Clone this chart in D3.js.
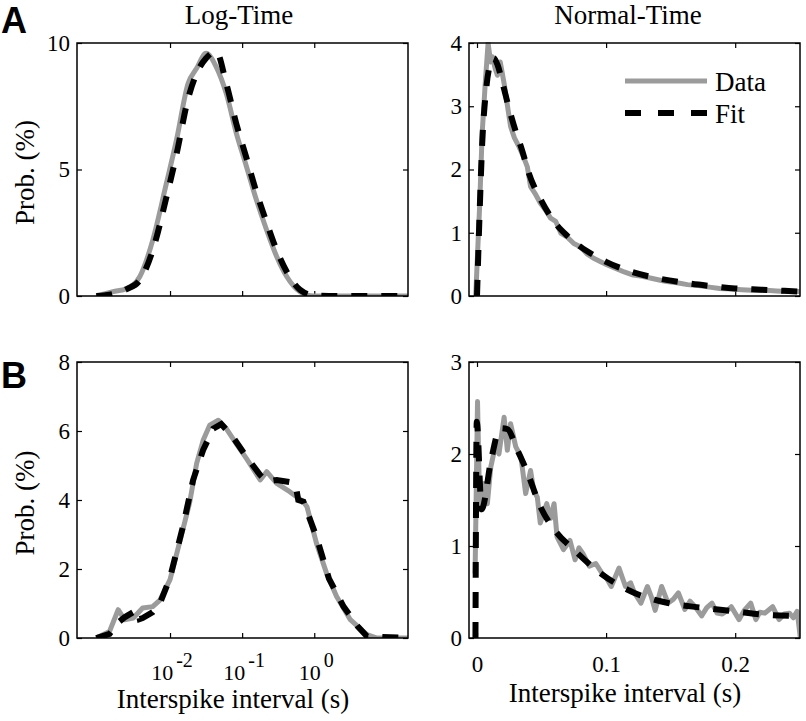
<!DOCTYPE html>
<html>
<head>
<meta charset="utf-8">
<script src="https://cdn.jsdelivr.net/npm/d3@7"></script>
<style>
  html, body { margin: 0; padding: 0; background: #fff; }
  svg { display: block; }
  text.serif, .serif text { font-family: "Liberation Serif", "Times New Roman", serif; fill: #000; }
  text.letter { font-family: "Liberation Sans", Arial, sans-serif; font-weight: bold; fill: #000; }
</style>
</head>
<body>
<svg id="chart" width="806" height="721"></svg>
<script>
// ---------------- DATA ----------------
// Panel A, log-time: interspike interval (s) and probability (%)
const isiLogA = [0.00095, 0.00162, 0.00251, 0.0038, 0.00575, 0.0089, 0.0123, 0.0178, 0.0234, 0.0316, 0.0437, 0.0603, 0.0832, 0.115, 0.158, 0.219, 0.302, 0.417, 0.631, 0.977, 2.0, 5.0, 19.95];
const dataLogA = [0, 0.17, 0.3, 0.76, 2.2, 4.45, 6.17, 8.4, 9.0, 9.59, 9.06, 8.0, 6.43, 5.11, 3.79, 2.6, 1.55, 0.76, 0.17, 0, 0, 0, 0];
const fitLogA  = [0, 0.08, 0.27, 0.62, 1.8, 3.9, 5.6, 7.8, 8.8, 9.4, 9.66, 8.4, 6.8, 5.45, 4.1, 2.9, 1.8, 0.95, 0.25, 0.03, 0, 0, 0];

// Panel A, normal-time
const isiNormA_data = [-0.001, 0.002, 0.004, 0.0065, 0.0086, 0.0105, 0.012, 0.014, 0.0158, 0.018, 0.021, 0.024, 0.026, 0.029, 0.0325, 0.036, 0.039, 0.0415, 0.045, 0.049, 0.053, 0.057, 0.061, 0.065, 0.07, 0.075, 0.08, 0.085, 0.09, 0.095, 0.101, 0.107, 0.114, 0.121, 0.128, 0.135, 0.142, 0.147, 0.155, 0.163, 0.173, 0.18, 0.188, 0.198, 0.205, 0.213, 0.224, 0.232, 0.24, 0.25];
const dataNormA = [0, 1.4, 2.57, 3.4, 4.0, 3.7, 3.78, 3.6, 3.49, 3.7, 3.36, 2.95, 2.68, 2.5, 2.36, 2.2, 2.04, 1.73, 1.62, 1.47, 1.36, 1.23, 1.18, 0.99, 0.93, 0.83, 0.78, 0.67, 0.6, 0.55, 0.49, 0.44, 0.38, 0.33, 0.31, 0.28, 0.25, 0.23, 0.21, 0.18, 0.16, 0.14, 0.12, 0.11, 0.1, 0.09, 0.09, 0.08, 0.07, 0.07];
const isiNormA_fit = [0.0, 0.002, 0.004, 0.007, 0.01, 0.013, 0.016, 0.02, 0.025, 0.03, 0.035, 0.04, 0.05, 0.06, 0.07, 0.08, 0.09, 0.1, 0.12, 0.14, 0.16, 0.18, 0.2, 0.22, 0.25];
const fitNormA  = [0, 1.3, 2.4, 3.25, 3.65, 3.76, 3.65, 3.35, 2.95, 2.6, 2.3, 1.95, 1.5, 1.17, 0.95, 0.78, 0.65, 0.54, 0.38, 0.28, 0.21, 0.16, 0.12, 0.1, 0.07];

// Panel B, log-time
const isiLogB_data = [0.00095, 0.00145, 0.00191, 0.00234, 0.00309, 0.00417, 0.00575, 0.00724, 0.01, 0.0135, 0.0186, 0.0234, 0.0288, 0.0355, 0.0468, 0.0603, 0.0832, 0.115, 0.178, 0.219, 0.302, 0.457, 0.708, 0.794, 1.072, 1.479, 2.042, 3.162, 5.37, 7.41, 19.95];
const dataLogB = [0, 0.19, 0.82, 0.53, 0.58, 0.87, 0.91, 1.1, 1.69, 2.75, 3.9, 5.06, 5.73, 6.17, 6.31, 6.07, 5.63, 5.2, 4.58, 4.82, 4.48, 4.24, 3.95, 3.8, 2.75, 1.88, 1.2, 0.53, 0.1, 0, 0];
const isiLogB_fit = [0.00095, 0.00145, 0.00191, 0.00234, 0.00309, 0.00355, 0.0038, 0.00417, 0.00575, 0.00724, 0.01, 0.0151, 0.0209, 0.0288, 0.0398, 0.0513, 0.0741, 0.115, 0.178, 0.219, 0.302, 0.513, 0.55, 0.6, 0.708, 1.07, 1.6, 2.55, 4.0, 5.37, 19.95];
const fitLogB  = [0, 0.12, 0.45, 0.6, 0.75, 0.82, 0.55, 0.58, 0.75, 1.0, 1.75, 3.23, 4.58, 5.45, 6.07, 6.2, 5.83, 5.25, 4.72, 4.53, 4.58, 4.5, 4.45, 4.0, 3.95, 2.94, 1.72, 0.91, 0.34, 0.05, 0];

// Panel B, normal-time
const isiNormB_data = [-0.0015, 0.0004, 0.0016, 0.003, 0.0055, 0.008, 0.0107, 0.0145, 0.017, 0.021, 0.0235, 0.026, 0.030, 0.034, 0.0377, 0.0415, 0.044, 0.0467, 0.049, 0.054, 0.057, 0.0597, 0.062, 0.067, 0.072, 0.076, 0.079, 0.082, 0.087, 0.092, 0.097, 0.1, 0.104, 0.11, 0.115, 0.119, 0.122, 0.127, 0.132, 0.135, 0.138, 0.143, 0.148, 0.152, 0.156, 0.161, 0.165, 0.169, 0.174, 0.178, 0.182, 0.186, 0.19, 0.194, 0.197, 0.203, 0.207, 0.212, 0.216, 0.219, 0.223, 0.229, 0.234, 0.238, 0.242, 0.245, 0.248, 0.2505];
const dataNormB = [0.7, 2.57, 1.75, 1.39, 1.68, 1.46, 1.86, 2.11, 2.0, 2.4, 2.04, 2.33, 2.08, 1.97, 1.57, 1.82, 1.6, 1.53, 1.25, 1.46, 1.3, 1.46, 1.1, 0.96, 1.06, 0.85, 0.98, 0.92, 0.78, 0.81, 0.7, 0.66, 0.56, 0.76, 0.56, 0.6, 0.49, 0.38, 0.56, 0.45, 0.3, 0.56, 0.38, 0.42, 0.49, 0.31, 0.4, 0.34, 0.24, 0.33, 0.38, 0.27, 0.26, 0.3, 0.34, 0.2, 0.3, 0.38, 0.2, 0.28, 0.27, 0.34, 0.2, 0.26, 0.27, 0.22, 0.29, 0.0];
const isiNormB_fit = [-0.0012, -0.0002, 0.0036, 0.011, 0.018, 0.0235, 0.031, 0.039, 0.049, 0.062, 0.075, 0.096, 0.122, 0.148, 0.174, 0.2, 0.225, 0.25];
const fitNormB  = [0, 2.35, 1.4, 1.94, 2.28, 2.27, 2.05, 1.8, 1.43, 1.14, 0.96, 0.7, 0.49, 0.38, 0.33, 0.29, 0.25, 0.24];

// Ticks
const logTicks = [0.01, 0.1, 1];
const logTickExp = ["-2", "-1", "0"];
const normTicks = [0, 0.1, 0.2];
const yTicksA1 = [0, 5, 10];
const yTicksA2 = [0, 1, 2, 3, 4];
const yTicksB1 = [0, 2, 4, 6, 8];
const yTicksB2 = [0, 1, 2, 3];

// ---------------- LAYOUT ----------------
const svg = d3.select("#chart");
const GRAY = "#9b9b9b";
const colL = [77, 408], colR = [469, 800];
const rowA = [296, 43], rowB = [638, 362];

const xLog = d3.scaleLog().domain([Math.pow(10, -3.29), Math.pow(10, 1.3)]).range(colL);
const xLin = d3.scaleLinear().domain([-0.0062, 0.2502]).range(colR);

const panels = [
  { id: "a1", x: xLog, y: d3.scaleLinear().domain([0, 10]).range(rowA), yt: yTicksA1, xt: logTicks, curve: d3.curveMonotoneX, fcurve: d3.curveMonotoneX,
    data: [isiLogA, dataLogA], fit: [isiLogA, fitLogA], xlabels: false, ylabel: true },
  { id: "a2", x: xLin, y: d3.scaleLinear().domain([0, 4]).range(rowA), yt: yTicksA2, xt: normTicks, curve: d3.curveLinear, fcurve: d3.curveMonotoneX,
    data: [isiNormA_data, dataNormA], fit: [isiNormA_fit, fitNormA], xlabels: false, ylabel: false },
  { id: "b1", x: xLog, y: d3.scaleLinear().domain([0, 8]).range(rowB), yt: yTicksB1, xt: logTicks, curve: d3.curveLinear, fcurve: d3.curveLinear,
    data: [isiLogB_data, dataLogB], fit: [isiLogB_fit, fitLogB], xlabels: "log", ylabel: true },
  { id: "b2", x: xLin, y: d3.scaleLinear().domain([0, 3]).range(rowB), yt: yTicksB2, xt: normTicks, curve: d3.curveLinear, fcurve: d3.curveMonotoneX,
    data: [isiNormB_data, dataNormB], fit: [isiNormB_fit, fitNormB], xlabels: "lin", ylabel: false }
];

const defs = svg.append("defs");
const fmtPlain = d => String(d);

panels.forEach(p => {
  const [x0, x1] = p.x.range();
  const [y0, y1] = p.y.range();
  const g = svg.append("g").attr("class", "panel-" + p.id + " serif");

  defs.append("clipPath").attr("id", "clip-" + p.id)
    .append("rect").attr("x", x0).attr("y", y1 - 1).attr("width", x1 - x0).attr("height", y0 - y1 + 1);

  // ticks (inside, on all four sides)
  const axB = d3.axisBottom(p.x).tickValues(p.xt).tickSizeInner(-5).tickSizeOuter(0).tickFormat(p.xlabels === "lin" ? fmtPlain : () => "").tickPadding(18);
  const axT = d3.axisTop(p.x).tickValues(p.xt).tickSizeInner(-5).tickSizeOuter(0).tickFormat(() => "");
  const axL = d3.axisLeft(p.y).tickValues(p.yt).tickSizeInner(-5).tickSizeOuter(0).tickPadding(7).tickFormat(fmtPlain);
  const axR = d3.axisRight(p.y).tickValues(p.yt).tickSizeInner(-5).tickSizeOuter(0).tickFormat(() => "");

  const styleAx = sel => {
    sel.attr("font-family", null).attr("font-size", null);
    sel.select(".domain").remove();
    sel.selectAll(".tick line").attr("stroke", "#000").attr("stroke-width", 1.2);
    sel.selectAll(".tick text").style("font-size", "23px").attr("fill", "#000");
  };
  g.append("g").attr("transform", `translate(0,${y0})`).call(axB).call(styleAx);
  g.append("g").attr("transform", `translate(0,${y1})`).call(axT).call(styleAx);
  g.append("g").attr("transform", `translate(${x0},0)`).call(axL).call(styleAx);
  g.append("g").attr("transform", `translate(${x1},0)`).call(axR).call(styleAx);

  // log tick labels with superscript exponents
  if (p.xlabels === "log") {
    p.xt.forEach((t, i) => {
      const tx = g.append("text").attr("x", p.x(t) + 2).attr("y", y0 + 42)
        .attr("text-anchor", "middle").style("font-size", "22px");
      tx.append("tspan").text("10");
      tx.append("tspan").attr("dx", 3).attr("dy", -13).style("font-size", "20px").text(logTickExp[i]);
    });
  }

  // curves
  const lineOf = (xs, ys, curve) => d3.line().x((d, i) => p.x(xs[i])).y(d => p.y(d)).curve(curve)(ys);
  const plot = g.append("g").attr("clip-path", `url(#clip-${p.id})`);
  plot.append("path").attr("d", lineOf(p.data[0], p.data[1], p.curve))
    .attr("fill", "none").attr("stroke", GRAY).attr("stroke-width", 5).attr("stroke-linejoin", "round");
  plot.append("path").attr("d", lineOf(p.fit[0], p.fit[1], p.fcurve))
    .attr("fill", "none").attr("stroke", "#000").attr("stroke-width", 6).attr("stroke-dasharray", "16,14");

  // frame
  g.append("rect").attr("x", x0).attr("y", y1).attr("width", x1 - x0).attr("height", y0 - y1)
    .attr("fill", "none").attr("stroke", "#000").attr("stroke-width", 1.5);

  if (p.ylabel) {
    const cy = (y0 + y1) / 2 + 3;
    svg.append("text").attr("class", "serif").attr("transform", `translate(34,${cy}) rotate(-90)`)
      .attr("text-anchor", "middle").style("font-size", "27px").text("Prob. (%)");
  }
});

// titles
const addText = (x, y, s, size, anchor) => svg.append("text").attr("class", "serif").attr("x", x).attr("y", y)
  .attr("text-anchor", anchor || "middle").style("font-size", size + "px").text(s);
addText(239, 24, "Log-Time", 27);
addText(628, 24, "Normal-Time", 27);

// x-axis labels
addText(233, 708, "Interspike interval (s)", 27);
addText(625, 702, "Interspike interval (s)", 27);

// panel letters
svg.append("text").attr("class", "letter").attr("x", 1).attr("y", 33).style("font-size", "36px").text("A");
svg.append("text").attr("class", "letter").attr("x", 1).attr("y", 388).style("font-size", "36px").text("B");

// legend
const legend = svg.append("g").attr("class", "legend serif");
const legItems = [{ label: "Data", color: GRAY, width: 5, dash: null, y: 81 },
                  { label: "Fit", color: "#000", width: 6, dash: "16,17", y: 113 }];
legItems.forEach(it => {
  legend.append("line").attr("x1", 625).attr("x2", 707).attr("y1", it.y).attr("y2", it.y)
    .attr("stroke", it.color).attr("stroke-width", it.width).attr("stroke-dasharray", it.dash);
  legend.append("text").attr("x", 715).attr("y", it.y + 10).style("font-size", "27px").text(it.label);
});
</script>
</body>
</html>
